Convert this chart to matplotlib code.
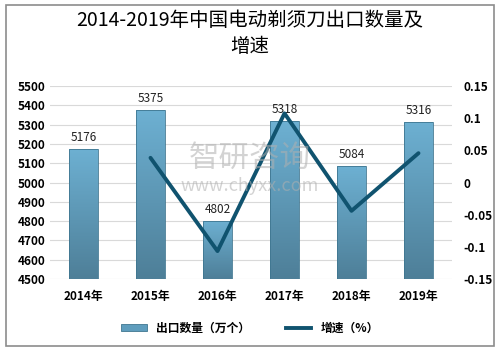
import numpy as np
import matplotlib
matplotlib.use("Agg")
import matplotlib.pyplot as plt
from matplotlib.patches import Rectangle, Patch
from matplotlib.lines import Line2D

plt.rcParams['font.family'] = ['Noto Sans CJK SC', 'DejaVu Sans']

# data
years = ['2014年', '2015年', '2016年', '2017年', '2018年', '2019年']
export_qty = [5176, 5375, 4802, 5318, 5084, 5316]
growth = [np.nan, 0.0384, -0.1066, 0.1075, -0.0440, 0.0456]

fig = plt.figure(figsize=(5, 3.51), dpi=100)
fig.patches.append(Rectangle((0.012, 0.015), 0.976, 0.972, transform=fig.transFigure,
                             fill=False, edgecolor='#8c8c8c', linewidth=1.2))

ax = fig.add_axes([0.1, 0.205, 0.804, 0.55])
x = np.arange(len(years))
w = 0.42

# gradient bars
grad = np.linspace(0, 1, 100).reshape(-1, 1)
cmap = matplotlib.colors.LinearSegmentedColormap.from_list('b', ['#4e7f98', '#6db0d2'])
bars = ax.bar(x, export_qty, width=w, color='none', edgecolor='#3f7690', linewidth=0.6, zorder=3)
for b in bars:
    im = ax.imshow(grad, extent=[b.get_x(), b.get_x() + w, 4500, b.get_height()],
                   origin='lower', aspect='auto', cmap=cmap, zorder=2)
    im.set_clip_path(b)
for xi, v in zip(x, export_qty):
    ax.text(xi, v + 25, str(v), ha='center', va='bottom', fontsize=8.5, color='#222222')

ax.set_xlim(-0.5, 5.5)
ax.set_ylim(4500, 5500)
ax.set_yticks(np.arange(4500, 5501, 100))
ax.grid(axis='y', color='#d9d9d9', linewidth=0.8, zorder=0)
ax.set_axisbelow(True)
for s in ax.spines.values():
    s.set_visible(False)
ax.set_xticks(x)
ax.set_xticklabels(years, fontsize=8.5, fontweight='bold')
ax.tick_params(axis='both', length=0, labelsize=8.5)
for t in ax.get_yticklabels():
    t.set_fontweight('bold')
ax.tick_params(axis='x', pad=8)

ax2 = ax.twinx()
ax2.plot(x, growth, color='#10536f', linewidth=2.8, solid_capstyle='round', zorder=5)
ax2.set_ylim(-0.15, 0.15)
ax2.set_yticks([-0.15, -0.1, -0.05, 0, 0.05, 0.1, 0.15])
ax2.set_yticklabels(['-0.15', '-0.1', '-0.05', '0', '0.05', '0.1', '0.15'])
ax2.tick_params(axis='y', length=0, labelsize=8.5, pad=8)
for t in ax2.get_yticklabels():
    t.set_fontweight('bold')
for s in ax2.spines.values():
    s.set_visible(False)

# watermark
fig.text(0.5, 0.55, '智研咨询', fontsize=22, color='#b0b0b0', alpha=0.55, ha='center', va='center')
fig.text(0.5, 0.47, 'www.chyxx.com', fontsize=13, color='#b0b0b0', alpha=0.55, ha='center', va='center')

fig.text(0.5, 0.905, '2014-2019年中国电动剃须刀出口数量及\n增速', ha='center', va='center',
         fontsize=14, linespacing=1.3)

handles = [Patch(facecolor='#5f9dbd', edgecolor='#3f7690', linewidth=0.6),
           Line2D([0], [0], color='#10536f', linewidth=2.8)]
fig.legend(handles, ['出口数量（万个）', '增速（%）'], loc='center', bbox_to_anchor=(0.5, 0.065),
           ncol=2, frameon=False, prop={'size': 8.5, 'weight': 'bold'},
           handlelength=2.2, handleheight=0.6, columnspacing=3)

fig.savefig('out.png', dpi=100)
